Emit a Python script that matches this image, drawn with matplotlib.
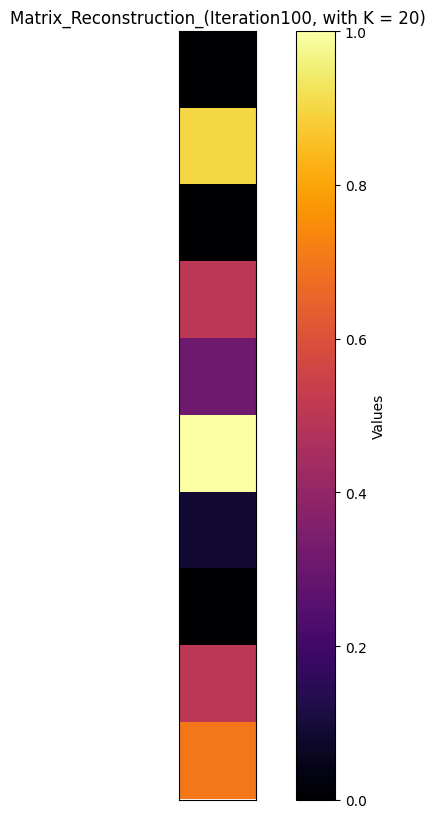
import matplotlib
matplotlib.use("Agg")
import matplotlib.pyplot as plt
import numpy as np

# reconstructed values, one column, 10 rows
values = [0.0, 0.9, 0.0, 0.5, 0.31, 1.0, 0.09, 0.0, 0.5, 0.7]
title = "Matrix_Reconstruction_(Iteration100, with K = 20)"

matrix = np.array(values).reshape(-1, 1)

fig = plt.figure(figsize=(4.35, 8.2), dpi=100)
ax = fig.add_axes([179 / 435, 19 / 820, 77 / 435, 769 / 820])
cax = fig.add_axes([296 / 435, 19 / 820, 39 / 435, 769 / 820])

im = ax.imshow(matrix, cmap="inferno", vmin=0, vmax=1, aspect="auto")
ax.set_ylim(9.515, -0.5)
ax.set_xticks([])
ax.set_yticks([])
ax.set_title(title)

cbar = fig.colorbar(im, cax=cax)
cbar.set_label("Values")
cbar.set_ticks(np.arange(0, 1.01, 0.2))

fig.savefig("out.png", dpi=100)
